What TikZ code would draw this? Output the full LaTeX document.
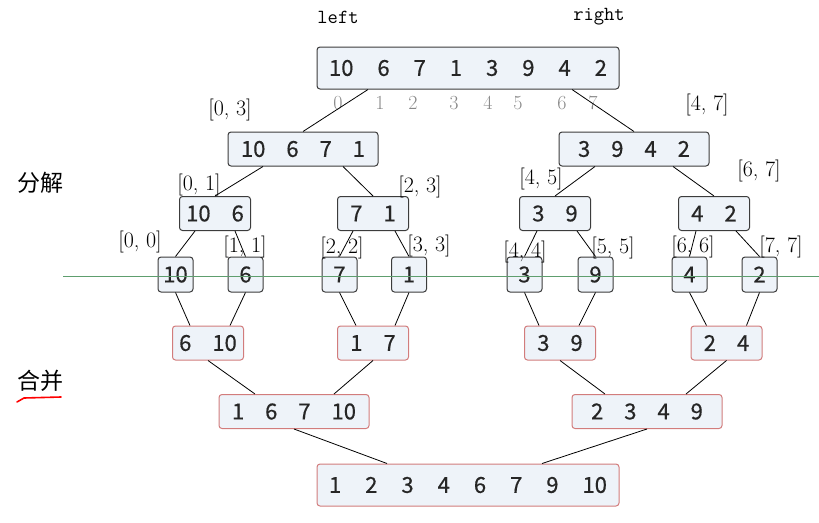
\documentclass[tikz,border=0pt]{standalone}
\usepackage{fontspec}
\newfontfamily\cjk{Noto Sans CJK SC}
\newfontfamily\numfont{Noto Sans CJK SC}[FakeBold=0.5]
\usetikzlibrary{positioning}
\definecolor{boxfill}{HTML}{EEF3F9}
\definecolor{boxline}{HTML}{3C3C3C}
\definecolor{mergeline}{HTML}{D27C7C}
\definecolor{cutline}{HTML}{5E9E6E}
\definecolor{idxgray}{HTML}{888888}
\newcommand{\gap}{\hspace{21pt}}
\newcommand{\wgap}{\hspace{24pt}}

\begin{document}
\begin{tikzpicture}[x=1pt,y=-1pt,line width=0.8pt,
    cell/.style={draw=boxline,fill=boxfill,rounded corners=3pt,line width=1pt,inner sep=0pt,
                 text=black!85,font=\numfont\fontsize{22}{22}\selectfont},
    part/.style={cell},
    joined/.style={cell,draw=mergeline},
    n8/.style={minimum width=302pt,minimum height=42pt},
    n4/.style={minimum width=150pt,minimum height=34pt},
    n2/.style={minimum width=71pt,minimum height=34pt},
    n1/.style={minimum width=35pt,minimum height=35pt},
    rng/.style={font=\fontsize{22}{22}\selectfont},
    idx/.style={text=idxgray,font=\fontsize{20}{20}\selectfont}]
        \useasboundingbox (0,0) rectangle (819,522);

        \node[font=\ttfamily\fontsize{20}{20}\selectfont] (lft) at (338,17) {left};
        \node[font=\ttfamily\fontsize{20}{20}\selectfont] (rgt) at (599,17) {right};
        \node[font=\cjk\fontsize{23}{23}\selectfont] (fj) at (40,183) {分解};
        \node[font=\cjk\fontsize{23}{23}\selectfont] (hb) at (40,381) {合并};
        \draw[red,line width=1.6pt,line cap=round] (17,402) -- (24,398) -- (61,397);

        % split
        \node[part,n8] (top) at (468,68) {10\wgap 6\wgap 7\wgap 1\wgap 3\wgap 9\wgap 4\wgap 2};
        \node[idx] (i0) at (338,103) {0};
        \node[idx] (i1) at (380,103) {1};
        \node[idx] (i2) at (413,103) {2};
        \node[idx] (i3) at (454,103) {3};
        \node[idx] (i4) at (488,103) {4};
        \node[idx] (i5) at (518,103) {5};
        \node[idx] (i6) at (562,103) {6};
        \node[idx] (i7) at (593,103) {7};

        \node[part,n4] (l) at (303,149) {10\gap 6\gap 7\gap 1};
        \node[part,n4] (r) at (634,149) {3\gap 9\gap 4\gap 2};
        \node[rng] (r03) at (230,110) {[0, 3]};
        \node[rng] (r47) at (707,105) {[4, 7]};

        \node[part,n2] (ll) at (215,213.5) {10\gap 6};
        \node[part,n2] (lr) at (373,213.5) {7\gap 1};
        \node[part,n2] (rl) at (555,213.5) {3\gap 9};
        \node[part,n2] (rr) at (714,213.5) {4\gap 2};
        \node[rng] (r01) at (199,185) {[0, 1]};
        \node[rng] (r23) at (420,187) {[2, 3]};
        \node[rng] (r45) at (541,179) {[4, 5]};
        \node[rng] (r67) at (759,171) {[6, 7]};

        \node[part,n1] (a0) at (175.5,274.5) {10};
        \node[part,n1] (a1) at (245.5,274.5) {6};
        \node[part,n1] (a2) at (339.5,274.5) {7};
        \node[part,n1] (a3) at (409,274.5) {1};
        \node[part,n1] (a4) at (524.5,274.5) {3};
        \node[part,n1] (a5) at (595.5,274.5) {9};
        \node[part,n1] (a6) at (689.5,274.5) {4};
        \node[part,n1] (a7) at (759.5,274.5) {2};
        \node[rng] (r00) at (140,242) {[0, 0]};
        \node[rng] (r11) at (245,247) {[1, 1]};
        \node[rng] (r22) at (342,248) {[2, 2]};
        \node[rng] (r33) at (429,246) {[3, 3]};
        \node[rng] (r44) at (525,252) {[4, 4]};
        \node[rng] (r55) at (613,248) {[5, 5]};
        \node[rng] (r66) at (693,247) {[6, 6]};
        \node[rng] (r77) at (781,247) {[7, 7]};

        \path ([xshift=-100pt]top.south) edge (l.north)
              ([xshift=104pt]top.south) edge (r.north)
              ([xshift=-40pt]l.south) edge (ll.north)
              ([xshift=40pt]l.south) edge (lr.north)
              ([xshift=-39pt]r.south) edge (rl.north)
              ([xshift=39pt]r.south) edge (rr.north)
              ([xshift=-20pt]ll.south) edge (a0.north)
              ([xshift=20pt]ll.south) edge (a1.north)
              ([xshift=-20pt]lr.south) edge (a2.north)
              ([xshift=22pt]lr.south) edge (a3.north)
              ([xshift=-18pt]rl.south) edge (a4.north)
              ([xshift=22pt]rl.south) edge (a5.north)
              ([xshift=-18pt]rr.south) edge (a6.north)
              ([xshift=22pt]rr.south) edge (a7.north);

        \coordinate (cut0) at (63,276);
        \coordinate (cut1) at (819,276);
        \draw[cutline,line width=0.9pt] (cut0) -- (cut1);

        % merge
        \node[joined,n2] (m0) at (208,343) {6\gap 10};
        \node[joined,n2] (m1) at (373,343) {1\gap 7};
        \node[joined,n2] (m2) at (560,343) {3\gap 9};
        \node[joined,n2] (m3) at (726.5,343) {2\gap 4};
        \node[joined,n4] (ml) at (294,411.5) {1\gap 6\gap 7\gap 10};
        \node[joined,n4] (mr) at (647,411.5) {2\gap 3\gap 4\gap 9};
        \node[joined,n8] (all) at (468,485) {1\wgap 2\wgap 3\wgap 4\wgap 6\wgap 7\wgap 9\wgap 10};

        \path (a0.south) edge ([xshift=-18pt]m0.north)
              (a1.south) edge ([xshift=22pt]m0.north)
              (a2.south) edge ([xshift=-17pt]m1.north)
              (a3.south) edge ([xshift=22pt]m1.north)
              (a4.south) edge ([xshift=-21pt]m2.north)
              (a5.south) edge ([xshift=19pt]m2.north)
              (a6.south) edge ([xshift=-20pt]m3.north)
              (a7.south) edge ([xshift=20pt]m3.north)
              (m0.south) edge ([xshift=-39pt]ml.north)
              (m1.south) edge ([xshift=40pt]ml.north)
              (m2.south) edge ([xshift=-42pt]mr.north)
              (m3.south) edge ([xshift=39pt]mr.north)
              (ml.south) edge ([xshift=-81pt]all.north)
              (mr.south) edge ([xshift=74pt]all.north);
    \end{tikzpicture}
\end{document}
